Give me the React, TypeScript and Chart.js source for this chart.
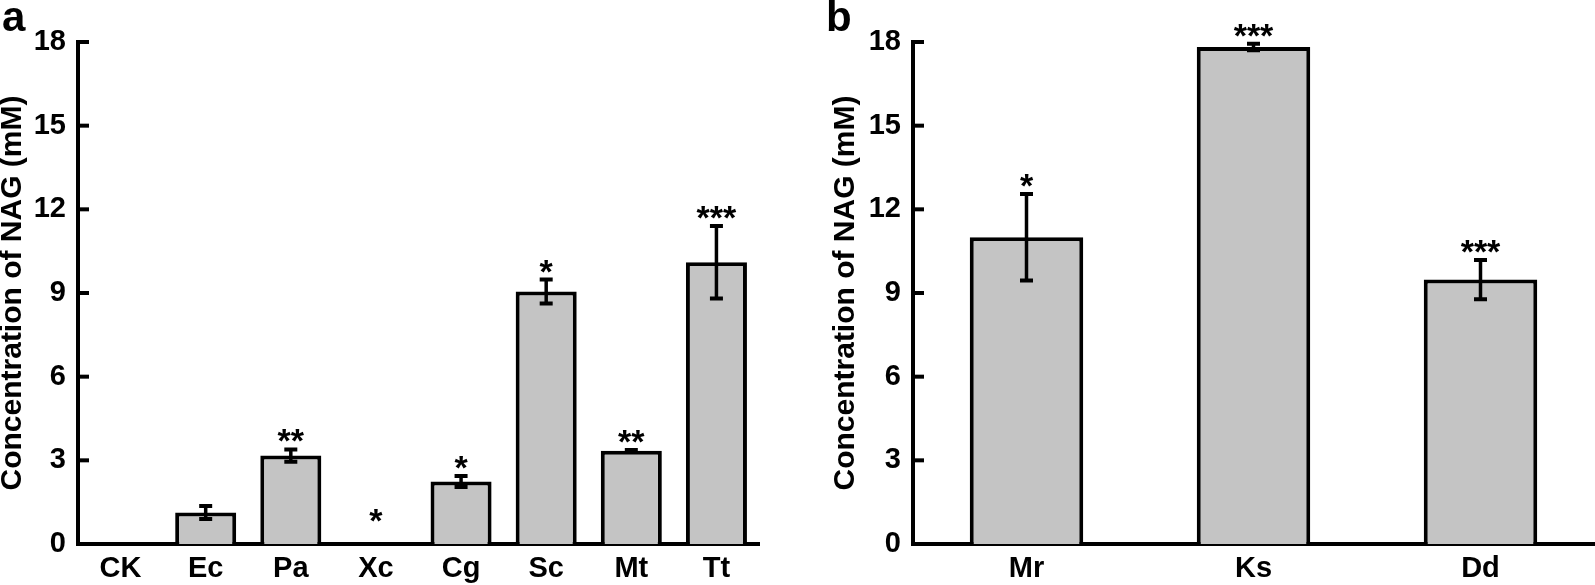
import React, { useEffect, useRef } from 'react';
import { Chart, registerables } from 'chart.js';

Chart.register(...registerables);

const categoriesA = ['CK', 'Ec', 'Pa', 'Xc', 'Cg', 'Sc', 'Mt', 'Tt'];
const valuesA = [0, 1.13, 3.17, 0, 2.24, 9.05, 3.34, 10.1];
const errorsA = [0, 0.23, 0.22, 0, 0.2, 0.43, 0.03, 1.3];
const starsA = ['', '', '**', '*', '*', '*', '**', '***'];

const categoriesB = ['Mr', 'Ks', 'Dd'];
const valuesB = [11.0, 17.82, 9.48];
const errorsB = [1.55, 0.12, 0.7];
const starsB = ['*', '***', '***'];

const yMin = 0;
const yMax = 18;
const yStep = 3;

const FAMILY = '"Liberation Sans", Arial, Helvetica, sans-serif';

type PanelCfg = {
  letter: string;
  letterX: number;
  categories: string[];
  values: number[];
  errors: number[];
  stars: string[];
  yWidth: number;
  titlePad: number;
  padRight: number;
  barPct: number;
  width: number;
  left: number;
};

const panels: PanelCfg[] = [
  {
    letter: 'a', letterX: 2, categories: categoriesA, values: valuesA, errors: errorsA, stars: starsA,
    yWidth: 78, titlePad: 0, padRight: 61, barPct: 0.717, width: 820, left: 0,
  },
  {
    letter: 'b', letterX: 6, categories: categoriesB, values: valuesB, errors: errorsB, stars: starsB,
    yWidth: 93, titlePad: 13.5, padRight: 1, barPct: 0.5, width: 775, left: 820,
  },
];

function makePlugin(p: PanelCfg) {
  return {
    id: 'decor_' + p.letter,
    afterDatasetsDraw(chart: any) {
      const ctx = chart.ctx;
      const y = chart.scales.y;
      const meta = chart.getDatasetMeta(0);
      ctx.save();
      // error bars
      ctx.strokeStyle = '#000';
      meta.data.forEach((bar: any, i: number) => {
        const v = p.values[i];
        const e = p.errors[i];
        if (!v) return;
        const top = y.getPixelForValue(v + e);
        const bot = y.getPixelForValue(v - e);
        const x = bar.x;
        ctx.lineWidth = 3.5;
        ctx.beginPath();
        ctx.moveTo(x, top);
        ctx.lineTo(x, bot);
        ctx.stroke();
        ctx.lineWidth = 4;
        ctx.beginPath();
        ctx.moveTo(x - 6.5, top);
        ctx.lineTo(x + 6.5, top);
        ctx.moveTo(x - 6.5, bot);
        ctx.lineTo(x + 6.5, bot);
        ctx.stroke();
      });
      // significance stars
      ctx.fillStyle = '#000';
      ctx.font = `bold 34px ${FAMILY}`;
      ctx.textAlign = 'center';
      ctx.textBaseline = 'alphabetic';
      const zero = y.getPixelForValue(0);
      meta.data.forEach((bar: any, i: number) => {
        const s = p.stars[i];
        if (!s) return;
        const topVal = p.values[i] + p.errors[i];
        const inkBottom = Math.min(y.getPixelForValue(topVal) - 7, zero - 22);
        const m = ctx.measureText(s);
        const desc = m.actualBoundingBoxDescent || -14;
        ctx.fillText(s, bar.x, inkBottom - desc);
      });
      ctx.restore();
    },
    afterDraw(chart: any) {
      const ctx = chart.ctx;
      const y = chart.scales.y;
      ctx.save();
      // inward y ticks
      ctx.strokeStyle = '#000';
      ctx.lineWidth = 4;
      const ax = y.right;
      y.ticks.forEach((t: any) => {
        const py = y.getPixelForValue(t.value);
        ctx.beginPath();
        ctx.moveTo(ax - 2, py);
        ctx.lineTo(ax + 11, py);
        ctx.stroke();
      });
      // panel letter
      ctx.fillStyle = '#000';
      ctx.font = `bold 42px ${FAMILY}`;
      ctx.textAlign = 'left';
      ctx.textBaseline = 'alphabetic';
      ctx.fillText(p.letter, p.letterX, 31);
      ctx.restore();
    },
  };
}

function Panel({ cfg }: { cfg: PanelCfg }) {
  const ref = useRef<HTMLCanvasElement>(null);
  useEffect(() => {
    if (!ref.current) return;
    const chart = new Chart(ref.current, {
      type: 'bar',
      data: {
        labels: cfg.categories,
        datasets: [
          {
            data: cfg.values,
            backgroundColor: '#c4c4c4',
            borderColor: '#000',
            borderWidth: 4,
            borderSkipped: 'start',
            barPercentage: cfg.barPct,
            categoryPercentage: 1,
          },
        ],
      },
      options: {
        animation: false,
        responsive: false,
        devicePixelRatio: 1,
        layout: { padding: { top: 42, right: cfg.padRight, bottom: 0, left: 0 } },
        plugins: { legend: { display: false }, tooltip: { enabled: false }, title: { display: false } },
        scales: {
          x: {
            grid: { display: false, drawTicks: false },
            border: { display: true, width: 4, color: '#000' },
            ticks: {
              color: '#000',
              padding: 8,
              font: { family: FAMILY, size: 29, weight: 'bold' },
            },
            afterFit: (s: any) => { s.height = 41; },
          },
          y: {
            min: yMin,
            max: yMax,
            grid: { display: false, drawTicks: false },
            border: { display: true, width: 4, color: '#000' },
            ticks: {
              stepSize: yStep,
              color: '#000',
              padding: 12,
              font: { family: FAMILY, size: 29, weight: 'bold' },
            },
            title: {
              display: true,
              text: 'Concentration of NAG (mM)',
              color: '#000',
              font: { family: FAMILY, size: 30, weight: 'bold', lineHeight: 0.833 },
              padding: { top: cfg.titlePad, bottom: 0 },
            },
            afterFit: (s: any) => { s.width = cfg.yWidth; },
          },
        },
      },
      plugins: [makePlugin(cfg)],
    } as any);
    return () => chart.destroy();
  }, [cfg]);
  return (
    <canvas
      ref={ref}
      width={cfg.width}
      height={585}
      style={{ position: 'absolute', left: cfg.left, top: 0, width: cfg.width, height: 585 }}
    />
  );
}

export default function App() {
  return (
    <div style={{ position: 'absolute', left: 0, top: 0, width: 1595, height: 585, background: '#fff', overflow: 'hidden' }}>
      {panels.map((p) => (
        <Panel key={p.letter} cfg={p} />
      ))}
    </div>
  );
}
